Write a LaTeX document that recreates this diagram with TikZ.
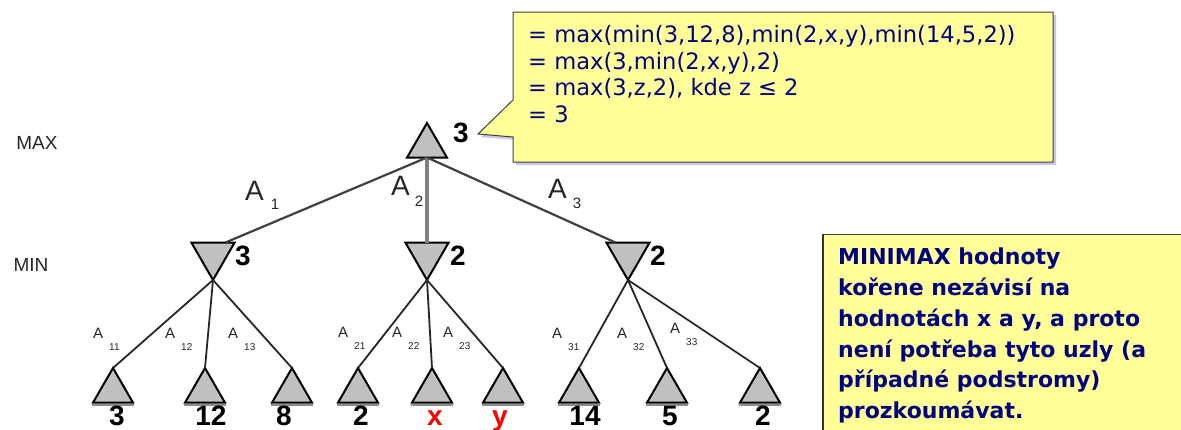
\documentclass[tikz,border=0pt]{standalone}
\usepackage{fontspec}
\setmainfont{DejaVu Sans}
\newfontfamily\arialfont{Liberation Sans}
\usetikzlibrary{positioning,shapes.geometric,calc}
\definecolor{notec}{RGB}{0,0,128}
\definecolor{notefill}{RGB}{255,255,153}
\definecolor{trifill}{RGB}{192,192,192}
\definecolor{shadowc}{RGB}{200,200,222}
\newcommand{\subbig}{\fontsize{15}{15}\selectfont}
\newcommand{\subsmall}{\fontsize{10}{10}\selectfont}
\tikzset{
  maxtri/.style    = {regular polygon, regular polygon sides=3, draw=black, line width=2pt,
                      fill=trifill, minimum size=46pt, inner sep=0pt, outer sep=0pt},
  mintri/.style    = {maxtri, shape border rotate=180, minimum size=50pt},
  leaf/.style      = {maxtri},
  leafbase/.style  = {draw=black!45, line width=2pt},
  rootedge/.style  = {draw=black!75, line width=2.2pt},
  midedge/.style   = {draw=black!50, line width=4pt},
  leafedge/.style  = {draw=black!85, line width=1.8pt},
  val/.style       = {font=\arialfont\bfseries\fontsize{28}{28}\selectfont, inner sep=0pt, text depth=0pt},
  levellab/.style  = {font=\arialfont\fontsize{19}{19}\selectfont, text=black!85, inner sep=0pt},
  biglab/.style    = {font=\arialfont\fontsize{28}{28}\selectfont, text=black!85, inner sep=0pt},
  smalllab/.style  = {font=\arialfont\fontsize{15}{15}\selectfont, text=black!85, inner sep=0pt},
  notebox/.style   = {draw=black!75, line width=1pt, fill=notefill},
  notetext/.style  = {font=\fontsize{22.6}{26.7}\selectfont, text=notec, align=left, inner sep=0pt},
  sidetext/.style  = {font=\bfseries\fontsize{22}{30.7}\selectfont, text=notec, align=left, inner sep=0pt},
}
\begin{document}
\begin{tikzpicture}[x=1pt, y=-1pt]
\useasboundingbox (0,0) rectangle (1181,429);

% callout with the computation
\fill[shadowc, shift={(3,3)}] (513,12) -- (1053,12) -- (1053,162) -- (513,162) -- (513,137) -- (478,134) -- (513,100) -- cycle;
\draw[notebox] (513,12) -- (1053,12) -- (1053,162) -- (513,162) -- (513,137) -- (478,134) -- (513,100) -- cycle;
\node[notetext, anchor=north west] (calc) at (528,25)
  {= max(min(3,12,8),min(2,x,y),min(14,5,2))\\
   = max(3,min(2,x,y),2)\\
   = max(3,z,2), kde z ≤ 2\\
   = 3};

% side note
\draw[notebox] (823,234) rectangle (1195,440);
\draw[black!80, line width=2pt] (823,234) -- (823,440);
\node[sidetext, anchor=north west] (note) at (838,248)
  {MINIMAX hodnoty\\
   kořene nezávisí na\\
   hodnotách x a y, a proto\\
   není potřeba tyto uzly (a\\
   případné podstromy)\\
   prozkoumávat.};

% levels
\node[levellab] (maxlab) at (37,143) {MAX};
\node[levellab] (minlab) at (31,265) {MIN};

% tree
\node[maxtri, anchor=corner 1] (root) at (427,123) {};
\node[mintri, anchor=corner 1] (m1) at (213,280) {};
\node[mintri, anchor=corner 1] (m2) at (427,280) {};
\node[mintri, anchor=corner 1] (m3) at (628,280) {};
\foreach \n/\x in {1/113,2/205,3/292,4/358,5/432,6/503,7/579,8/667,9/760}
  \node[leaf, anchor=corner 1] (l\n) at (\x,368) {};
\foreach \n in {1,...,9}
  \draw[leafbase] ([yshift=-2.5pt,xshift=-1pt]l\n.corner 2) -- ([yshift=-2.5pt,xshift=1pt]l\n.corner 3);

\draw[rootedge] (root.south) -- (m1.north east);
\draw[midedge] (root.south) -- (m2.north);
\draw[rootedge] (root.south) -- (m3.north west);
\foreach \m/\a/\b/\c in {1/1/2/3,2/4/5/6,3/7/8/9}
  \foreach \l in {\a,\b,\c}
    \draw[leafedge] (m\m.corner 1) -- (l\l.corner 1);

% values
\node[val, anchor=base west] (rv) at (453,142) {3};
\node[val, anchor=base west] (mv1) at (235,265) {3};
\node[val, anchor=base west] (mv2) at (450,265) {2};
\node[val, anchor=base west] (mv3) at (650,265) {2};
\foreach \n/\x/\v in {1/117/3,2/211/12,3/284/8,4/361/2,7/585/14,8/670/5,9/763/2}
  \node[val, anchor=base] (v\n) at (\x,425) {\v};
\node[val, text=red, anchor=base] (v5) at (435,425) {x};
\node[val, text=red, anchor=base] (v6) at (500,425) {y};

% edge labels
\node[biglab, anchor=base west] (a1) at (245,200) {A\hspace{7pt}\raisebox{-9pt}{\subbig 1}};
\node[biglab, anchor=base west] (a2) at (391,195) {A\hspace{5pt}\raisebox{-11pt}{\subbig 2}};
\node[biglab, anchor=base west] (a3) at (548,198) {A\hspace{6pt}\raisebox{-10pt}{\subbig 3}};
\foreach \n/\x/\y in {11/93/338,12/165/338,13/228/338,21/338/337,22/392/337,23/443/337,31/552/338,32/617/338,33/670/333}
  \node[smalllab, anchor=base west] (a\n) at (\x,\y) {A\hspace{6pt}\raisebox{-12pt}{\subsmall\n}};

\end{tikzpicture}
\end{document}
